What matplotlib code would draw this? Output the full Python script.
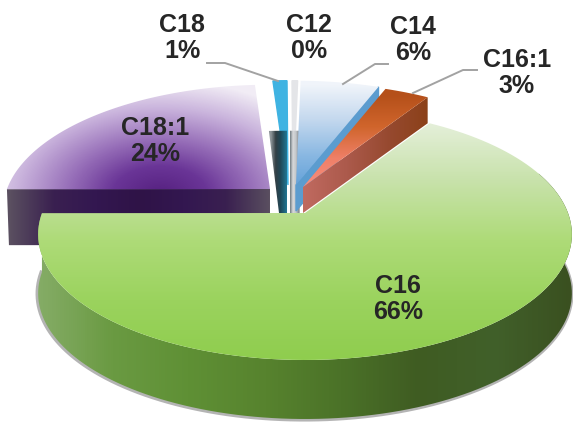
import numpy as np
import matplotlib
matplotlib.use('Agg')
import matplotlib.pyplot as plt
from matplotlib.colors import LinearSegmentedColormap
from matplotlib.patches import Polygon

names = ['C16', 'C18:1', 'C18', 'C12', 'C14', 'C16:1']
percent = [66.0, 24.0, 1.0, 0.4, 5.6, 3.2]

start_angle = -57.2
rx, ry, persp = 263.0, 122.0, 0.17

# exploded centre of every slice and the height of its side wall, in pixels
centre_x = [305, 270, 288, 293, 296, 303]
centre_y = [213, 189, 185, 185, 185, 187]
height = [59, 56, 50, 50, 26, 26]

plt.rcParams['font.family'] = ['Liberation Sans', 'DejaVu Sans']
fig = plt.figure(figsize=(5.73, 4.22), dpi=100)
ax = fig.add_axes([0, 0, 1, 1])
xx, yy = np.meshgrid(np.arange(573) + 0.5, np.arange(422) + 0.5)


def rim(i, a0, a1, n=120):
    t = np.radians(np.linspace(a0, a1, n))
    x, d = np.cos(t), np.sin(t)
    s = 1 / (1 - persp * d)
    return centre_x[i] + rx * x * s, centre_y[i] + ry * d * s


def gradient(xs, ys, field, colors, z):
    cmap = LinearSegmentedColormap.from_list('g', colors)
    im = ax.imshow(np.clip(field, 0, 1), cmap=cmap, vmin=0, vmax=1, extent=(0, 573, 422, 0),
                   interpolation='bilinear', zorder=z, aspect='auto')
    im.set_clip_path(Polygon(np.column_stack([xs, ys]), closed=True, transform=ax.transData))


def top_face(i, a0, a1):
    x, y = rim(i, a0, a1)
    return np.r_[centre_x[i], x], np.r_[centre_y[i], y]


def inner_wall(i, angle):
    x, y = rim(i, angle, angle, 1)
    cx, cy = centre_x[i], centre_y[i]
    return [cx, x[0], x[0], cx], [cy, y[0], y[0] + height[i], cy + height[i]]


edges = start_angle + np.r_[0, np.cumsum(percent)] * 360 / sum(percent)
a = [(edges[k], edges[k + 1]) for k in range(len(percent))]

# C18:1, straight wall along the cut, then the top
x, y = rim(1, a[1][0], a[1][0], 1)
wx = [x[0], x[0] + 2, centre_x[1], centre_x[1]]
wy = [y[0], y[0] + height[1], centre_y[1] + height[1], centre_y[1]]
gradient(wx, wy, np.abs(xx - 140) / 130, ['#2f1347', '#331750', '#3a2050', '#5a4f60'], 1)
xs, ys = top_face(1, a[1][0], a[1][1])
field = np.sqrt(((xx - 160) / 190) ** 2 + ((yy - 195) / 115) ** 2)
gradient(xs, ys, field, ['#55207f', '#6a3597', '#9a73bb', '#c9b3dc', '#f1ecf5'], 2)

# C18 and the faint C12 sliver, each with its dark lower part
xs, ys = top_face(2, a[2][0], a[2][1])
ax.fill(xs, ys, color='#3fb3e2', zorder=3)
px, py = rim(2, a[2][0], a[2][1], 2)
wx = [px[0] - 4, px[1], px[1], centre_x[2] - 9]
wy = [py[0] + height[2], py[1] + height[2], centre_y[2] + 28, centre_y[2] + 28]
gradient(wx, wy, (xx - 271) / 19, ['#8d9498', '#333f45', '#1f4858', '#1f6a84', '#2d8aa8'], 4)

xs, ys = top_face(3, a[3][0], a[3][1])
ax.fill(xs, ys, color='#e4e5e8', zorder=3)
px, py = rim(3, a[3][0], a[3][1], 2)
wx = [px[0] - 2, px[1] + 2, px[1] + 2, px[0] - 2]
wy = [py[0] + height[3], py[1] + height[3], centre_y[3] + 28, centre_y[3] + 28]
gradient(wx, wy, (xx - 290) / 9, ['#6f7a80', '#d6d8da', '#c4c7ca', '#7f878c'], 4)

# C14
wx, wy = inner_wall(4, a[4][1])
ax.fill(wx, wy, color='#5b9ccf', zorder=5)
xs, ys = top_face(4, a[4][0], a[4][1])
gradient(xs, ys, (yy - 85) / 105, ['#f0f4fa', '#c3d8ee', '#8ab8e2', '#5f9fd8'], 5)

# C16:1, inner wall then top
wx, wy = inner_wall(5, a[5][1])
gradient(wx, wy, (xx - 303) / 130, ['#c06a60', '#ac5a4c', '#96492f', '#8a4016'], 6)
xs, ys = top_face(5, a[5][0], a[5][1])
gradient(xs, ys, (yy - 95) / 95, ['#b5501a', '#d0652c', '#ef8068', '#f98f80'], 7)

# C16, soft edge under the wall, wall, then top
x, y = rim(0, -20, a[0][1])
ax.plot(x - 0.5, y + height[0] + 0.5, color='#444444', alpha=0.4, lw=3, zorder=7.5)
wx = np.r_[x, x[::-1]]
wy = np.r_[y, y[::-1] + height[0]]
gradient(wx, wy, (xx - 35) / 537,
         ['#86ad68', '#6a9a42', '#5f9035', '#57832e', '#4b7228', '#3f5c22', '#41602a', '#3a5020'], 8)
xs, ys = top_face(0, a[0][0], a[0][1])
gradient(xs, ys, (yy - 120) / 240, ['#e6f0dc', '#c8e2ab', '#aedb78', '#9bd35e', '#8fcd4e'], 9)

# leader lines
leaders = [([207, 225, 278], [63, 63, 81]),
           ([388, 375, 343], [64, 64, 84]),
           ([477, 463, 413], [70, 70, 93])]
for lx, ly in leaders:
    ax.plot(lx, ly, color='#a2a2a2', lw=1.4, zorder=10)

label_x = [398, 155, 182, 309, 413, 517]
label_y = [299, 141, 38, 38, 40, 73]
for k, name in enumerate(names):
    ax.text(label_x[k], label_y[k], '%s\n%d%%' % (name, round(percent[k])), ha='center', va='center',
            fontsize=18, fontweight='bold', color='#262626', linespacing=1.1, zorder=11)

ax.set_xlim(0, 573)
ax.set_ylim(422, 0)
ax.axis('off')
fig.savefig('out.png', dpi=100)
